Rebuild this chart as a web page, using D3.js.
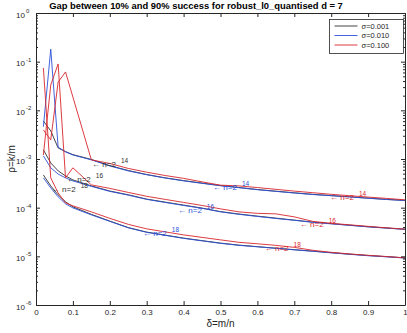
<!DOCTYPE html>
<html>
<head>
<meta charset="utf-8">
<script src="https://cdn.jsdelivr.net/npm/d3@7"></script>
<style>
  body { margin: 0; background: #fff; }
  svg text { font-family: "Liberation Sans", Arial, Helvetica, sans-serif; fill: #262626; }
  .axis path, .axis line { stroke: #262626; }
</style>
</head>
<body>
<svg id="chart" width="407" height="333"></svg>
<script>
// values
const delta = [0.02, 0.04, 0.06, 0.08, 0.10, 0.15, 0.20, 0.25, 0.30, 0.35, 0.40, 0.45,
               0.50, 0.55, 0.60, 0.65, 0.70, 0.75, 0.80, 0.85, 0.90, 0.95, 1.00];

// sigma = 0.001
const black14 = [6.05e-3, 3.78e-3, 1.69e-3, 1.42e-3, 1.23e-3, 9.8e-4, 7.3e-4, 5.8e-4, 4.8e-4, 4.1e-4, 3.6e-4, 3.2e-4,
                 2.85e-4, 2.6e-4, 2.36e-4, 2.18e-4, 2.02e-4, 1.88e-4, 1.77e-4, 1.67e-4, 1.57e-4, 1.48e-4, 1.41e-4];
const black16 = [1.54e-3, 8.3e-4, 5.7e-4, 4.5e-4, 3.72e-4, 2.8e-4, 2.2e-4, 1.84e-4, 1.5e-4, 1.3e-4, 1.13e-4, 9.8e-5,
                 8.3e-5, 7.4e-5, 6.7e-5, 6.1e-5, 5.55e-5, 5.05e-5, 4.7e-5, 4.37e-5, 4.06e-5, 3.82e-5, 3.6e-5];
const black18 = [4.7e-4, 2.8e-4, 1.83e-4, 1.32e-4, 1.04e-4, 7.3e-5, 5.3e-5, 3.9e-5, 3.15e-5, 2.73e-5, 2.37e-5, 2.1e-5,
                 1.87e-5, 1.7e-5, 1.58e-5, 1.47e-5, 1.37e-5, 1.28e-5, 1.19e-5, 1.11e-5, 1.04e-5, 9.85e-6, 9.3e-6];
// sigma = 0.010
const blue14 = [4.6e-3, 0.18, 1.75e-3, 1.4e-3, 1.21e-3, 9.6e-4, 7.2e-4, 5.7e-4, 4.75e-4, 4.07e-4, 3.55e-4, 3.16e-4,
                2.82e-4, 2.57e-4, 2.34e-4, 2.16e-4, 2.0e-4, 1.86e-4, 1.76e-4, 1.66e-4, 1.56e-4, 1.47e-4, 1.40e-4];
const blue16 = [1.16e-3, 6.6e-4, 4.9e-4, 4.1e-4, 3.55e-4, 2.74e-4, 2.16e-4, 1.81e-4, 1.48e-4, 1.28e-4, 1.11e-4, 9.7e-5,
                8.2e-5, 7.3e-5, 6.6e-5, 6.0e-5, 5.5e-5, 5.0e-5, 4.65e-5, 4.33e-5, 4.03e-5, 3.8e-5, 3.58e-5];
const blue18 = [4.1e-4, 2.55e-4, 1.67e-4, 1.2e-4, 9.9e-5, 7.11e-5, 5.23e-5, 3.85e-5, 3.11e-5, 2.70e-5, 2.34e-5, 2.08e-5,
                1.85e-5, 1.68e-5, 1.57e-5, 1.46e-5, 1.36e-5, 1.27e-5, 1.18e-5, 1.10e-5, 1.03e-5, 9.77e-6, 9.23e-6];
// sigma = 0.100
const red14 = [3.96e-3, 2.47e-3, 0.038, 0.0615, 0.0188, 9.6e-4, 8.1e-4, 6.4e-4, 5.36e-4, 4.58e-4, 4.0e-4, 3.39e-4,
               2.9e-4, 2.8e-4, 2.59e-4, 2.38e-4, 2.19e-4, 2.03e-4, 1.88e-4, 1.76e-4, 1.65e-4, 1.55e-4, 1.45e-4];
const red16 = [1.21e-3, 0.0332, 0.0897, 4.1e-4, 6.6e-4, 2.94e-4, 2.49e-4, 2.06e-4, 1.71e-4, 1.48e-4, 1.28e-4, 1.11e-4,
               9.45e-5, 8.2e-5, 7.64e-5, 7.46e-5, 6.47e-5, 5.23e-5, 4.76e-5, 4.44e-5, 4.13e-5, 3.85e-5, 3.62e-5];
const red18 = [0.0743, 4.1e-4, 2.01e-4, 1.26e-4, 1.09e-4, 8.2e-5, 6.03e-5, 4.54e-5, 3.67e-5, 3.18e-5, 2.76e-5, 2.45e-5,
               2.18e-5, 1.94e-5, 1.81e-5, 1.68e-5, 1.53e-5, 1.33e-5, 1.21e-5, 1.12e-5, 1.05e-5, 9.9e-6, 9.3e-6];

const sigmaLabels = ['\u03c3=0.001', '\u03c3=0.010', '\u03c3=0.100'];
const exponents = ['14', '16', '18'];
// where the "<- n=2^k" notes sit, [delta, rho], one row per sigma, one entry per n
const noteBlack = [[0.152, 7.9e-4], [0.084, 3.9e-4], [0.043, 2.43e-4]];
const noteBlue = [[0.48, 2.67e-4], [0.385, 9.0e-5], [0.29, 3.04e-5]];
const noteRed = [[0.797, 1.67e-4], [0.715, 4.65e-5], [0.62, 1.5e-5]];

const xTicks = [0, 0.1, 0.2, 0.3, 0.4, 0.5, 0.6, 0.7, 0.8, 0.9, 1];
const yDecades = [1e-6, 1e-5, 1e-4, 1e-3, 1e-2, 1e-1, 1];
const yExps = ['-6', '-5', '-4', '-3', '-2', '-1', '0'];

const colors = ['#303030', '#2b50d8', '#d8262b'];
const series = [
  { color: colors[0], lines: [black14, black16, black18], notes: noteBlack },
  { color: colors[1], lines: [blue14, blue16, blue18], notes: noteBlue },
  { color: colors[2], lines: [red14, red16, red18], notes: noteRed }
];

const mLeft = 36, mRight = 405, mTop = 13, mBottom = 305;
const svg = d3.select('#chart');

const x = d3.scaleLinear().domain([0, 1]).range([mLeft, mRight]);
const y = d3.scaleLog().domain([1e-6, 1]).range([mBottom, mTop]);

const minorTicks = [];
yDecades.slice(0, -1).forEach(d => {
  for (let k = 2; k <= 9; k++) minorTicks.push(d * k);
});

// curves
const line = d3.line()
  .x(d => x(d[0]))
  .y(d => y(d[1]));

const plot = svg.append('g').attr('class', 'curves');
series.forEach(s => {
  s.lines.forEach(vals => {
    plot.append('path')
      .datum(delta.map((d, i) => [d, vals[i]]))
      .attr('d', line)
      .attr('fill', 'none')
      .attr('stroke', s.color)
      .attr('stroke-width', 0.9);
  });
});

// notes
series.forEach(s => {
  s.notes.forEach((p, i) => {
    const t = svg.append('text')
      .attr('x', x(p[0]))
      .attr('y', y(p[1]) + 3)
      .attr('font-size', 8)
      .style('fill', s.color);
    t.append('tspan').text('\u2190 n=2');
    t.append('tspan')
      .attr('dx', 5)
      .attr('dy', -4)
      .attr('font-size', 6.5)
      .text(exponents[i]);
  });
});

// axes
const gx = svg.append('g').attr('class', 'axis')
  .attr('transform', `translate(0,${mBottom})`)
  .call(d3.axisBottom(x).tickValues(xTicks).tickSize(-4).tickSizeOuter(0).tickPadding(4)
    .tickFormat(d3.format('~g')));
gx.selectAll('text').attr('font-size', 8);

svg.append('g').attr('class', 'axis')
  .attr('transform', `translate(0,${mTop})`)
  .call(d3.axisTop(x).tickValues(xTicks).tickSize(-4).tickSizeOuter(0).tickFormat(''));

[[mLeft, d3.axisLeft], [mRight, d3.axisRight]].forEach(([pos, ax]) => {
  svg.append('g').attr('class', 'axis')
    .attr('transform', `translate(${pos},0)`)
    .call(ax(y).tickValues(yDecades).tickSize(-4).tickSizeOuter(0).tickFormat(''));
  const gm = svg.append('g').attr('class', 'axis')
    .attr('transform', `translate(${pos},0)`)
    .call(ax(y).tickValues(minorTicks).tickSize(-2).tickSizeOuter(0).tickFormat(''));
  gm.select('.domain').remove();
});
svg.selectAll('.axis').attr('font-family', null);

// y tick labels 10^k
yDecades.forEach((d, i) => {
  const t = svg.append('text')
    .attr('x', 16)
    .attr('y', y(d) + 4.5)
    .attr('font-size', 8);
  t.append('tspan').text('10');
  t.append('tspan')
    .attr('dx', 1)
    .attr('dy', -4.5)
    .attr('font-size', 6)
    .text(yExps[i]);
});

// title and axis labels
svg.append('text')
  .attr('x', 196)
  .attr('y', 9)
  .attr('text-anchor', 'middle')
  .attr('font-size', 9.4)
  .attr('font-weight', 'bold')
  .style('fill', '#000')
  .text('Gap between 10% and 90% success for robust_l0_quantised d = 7');

svg.append('text')
  .attr('x', (mLeft + mRight) / 2)
  .attr('y', 327)
  .attr('text-anchor', 'middle')
  .attr('font-size', 10)
  .text('\u03b4=m/n');

svg.append('text')
  .attr('transform', `translate(15,${(mTop + mBottom) / 2}) rotate(-90)`)
  .attr('text-anchor', 'middle')
  .attr('font-size', 10)
  .text('\u03c1=k/m');

// legend
const lg = svg.append('g').attr('transform', 'translate(329.5,19.5)');
lg.append('rect')
  .attr('width', 74)
  .attr('height', 34)
  .attr('fill', '#fff')
  .attr('stroke', '#262626')
  .attr('stroke-width', 0.8);
sigmaLabels.forEach((lab, i) => {
  const ly = 6.5 + i * 9.5;
  lg.append('line')
    .attr('x1', 5).attr('x2', 28)
    .attr('y1', ly).attr('y2', ly)
    .attr('stroke', colors[i])
    .attr('stroke-width', 0.9);
  lg.append('text')
    .attr('x', 32)
    .attr('y', ly + 2.7)
    .attr('font-size', 7.5)
    .text(lab);
});
</script>
</body>
</html>
